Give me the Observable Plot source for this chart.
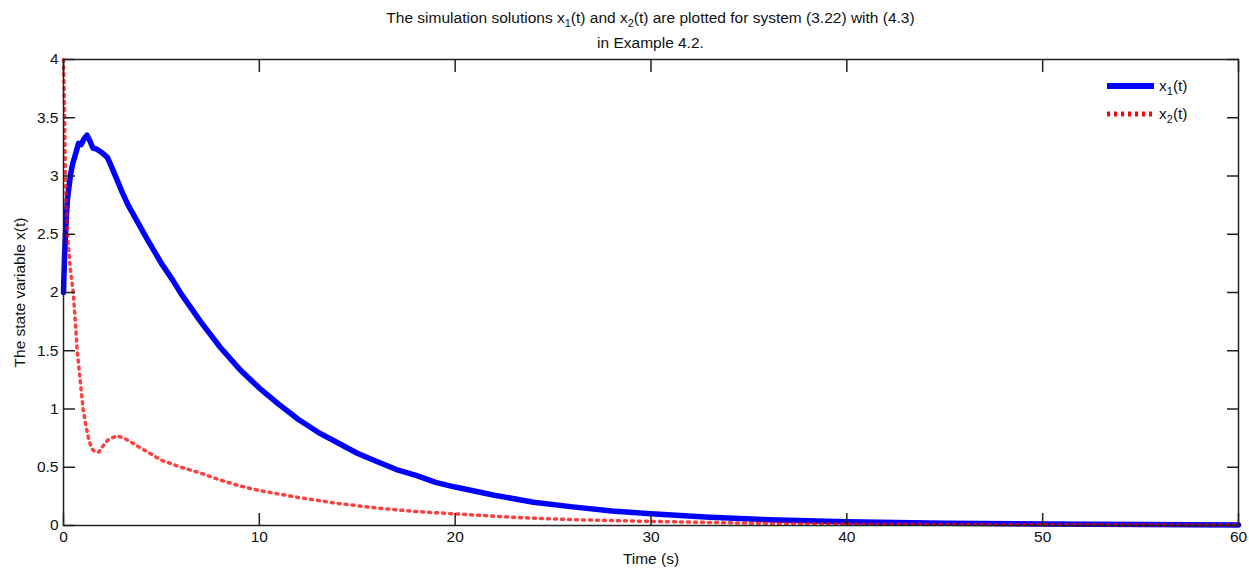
<!DOCTYPE html>
<html><head><meta charset="utf-8">
<script src="https://cdn.jsdelivr.net/npm/d3@7"></script>
<script src="https://cdn.jsdelivr.net/npm/@observablehq/plot@0.6"></script>
<style>
body{margin:0;background:#fff;font-family:"Liberation Sans",Arial,sans-serif;}
#wrap{position:relative;width:1249px;height:569px;overflow:hidden;}
#title{position:absolute;left:63px;width:1175px;top:5px;text-align:center;font-size:15.5px;line-height:25px;color:#111;}
#title sub{font-size:11px;vertical-align:-4px;line-height:0;}
#chart{position:absolute;left:0;top:52px;}
#legend{position:absolute;left:0;top:0;pointer-events:none;}
</style></head><body>
<div id="wrap">
<div id="title">The simulation solutions x<sub>1</sub>(t) and x<sub>2</sub>(t) are plotted for system (3.22) with (4.3)<br>in Example 4.2.</div>
<div id="chart"></div>
<svg id="legend" width="1249" height="569"></svg>
</div>
<script>
// ---- data ----
const x1T = [0,0.05,0.1,0.2,0.35,0.46,0.6,0.77,0.9,1.05,1.2,1.35,1.5,1.7,1.97,2.24,2.4,2.6,3.0,3.3,3.8,4.3,5,5.6,6,7,8,9,10,11,12,13,14,15,16,17,18,19,20,22,24,26,28,30,33,36,40,45,50,55,60];
const x1V = [2.0,2.3,2.5,2.8,3.0,3.1,3.18,3.28,3.27,3.32,3.35,3.3,3.24,3.23,3.2,3.16,3.1,3.02,2.86,2.75,2.6,2.45,2.25,2.1,1.99,1.75,1.53,1.34,1.18,1.04,0.91,0.80,0.71,0.62,0.55,0.48,0.43,0.37,0.33,0.26,0.2,0.16,0.125,0.1,0.07,0.05,0.033,0.02,0.012,0.008,0.005];
const x2T = [0,0.05,0.1,0.2,0.35,0.5,0.6,0.7,0.85,1.0,1.15,1.3,1.45,1.6,1.8,2.0,2.3,2.75,3.2,3.6,4,5,6,7,8,9,10,11,12,14,16,18,20,23,26,30,35,40,50,60];
const x2V = [4.0,3.6,3.0,2.5,2.2,2.0,1.75,1.5,1.25,1.0,0.85,0.73,0.66,0.63,0.63,0.68,0.74,0.77,0.74,0.70,0.66,0.56,0.50,0.45,0.39,0.34,0.30,0.27,0.24,0.19,0.15,0.12,0.1,0.07,0.05,0.035,0.02,0.012,0.006,0.004];
const xTicks = [0,10,20,30,40,50,60];
const yTicks = [0,0.5,1,1.5,2,2.5,3,3.5,4];
const seriesBase = ["x","x"];
const seriesSub = ["1","2"];
const seriesColor = ["#0000ff","#ff0000"];

const x1Rows = x1T.map((t,i)=>({t, v:x1V[i]}));
const x2Rows = x2T.map((t,i)=>({t, v:x2V[i]}));

const fmt = d => String(d);
const chart = Plot.plot({
  width:1249, height:517,
  marginLeft:63, marginRight:11, marginTop:7, marginBottom:44,
  style:{fontFamily:"Liberation Sans, Arial, sans-serif", fontSize:"15.5px", color:"#111", background:"white", overflow:"visible"},
  x:{domain:[0,60]},
  y:{domain:[0,4]},
  marks:[
    Plot.line(x1Rows,{x:"t",y:"v",stroke:seriesColor[0],strokeWidth:5.5}),
    Plot.line(x2Rows,{x:"t",y:"v",stroke:seriesColor[1],strokeWidth:3.5,strokeDasharray:"2,5",strokeOpacity:0.75}),
    Plot.frame({stroke:"#222",strokeWidth:1.5}),
    Plot.axisX(xTicks,{anchor:"bottom",tickSize:0,tickPadding:5,tickFormat:fmt,label:"Time (s)",labelAnchor:"center",labelArrow:"none",labelOffset:38,fontSize:15.5}),
    Plot.axisX(xTicks,{anchor:"bottom",tickSize:-12,tickFormat:()=>"",label:null,stroke:"#222",strokeWidth:1.5}),
    Plot.axisX(xTicks,{anchor:"top",tickSize:-12,tickFormat:()=>"",label:null,stroke:"#222",strokeWidth:1.5}),
    Plot.axisY(yTicks,{anchor:"left",tickSize:0,tickPadding:5,tickFormat:fmt,label:"The state variable x(t)",labelAnchor:"center",labelArrow:"none",labelOffset:50,fontSize:15.5}),
    Plot.axisY(yTicks,{anchor:"left",tickSize:-12,tickFormat:()=>"",label:null,stroke:"#222",strokeWidth:1.5}),
    Plot.axisY(yTicks,{anchor:"right",tickSize:-12,tickFormat:()=>"",label:null,stroke:"#222",strokeWidth:1.5})
  ]
});
document.getElementById("chart").appendChild(chart);

// legend
const lg = d3.select("#legend");
seriesBase.forEach((b,i)=>{
  const y = 86 + i*28;
  lg.append("line").attr("x1",1107).attr("x2",1154).attr("y1",y).attr("y2",y)
    .attr("stroke",seriesColor[i]).attr("stroke-width",i===0?6:5)
    .attr("stroke-dasharray",i===0?null:"3,4");
  const tx = lg.append("text").attr("x",1159).attr("y",y+5)
    .attr("font-family","Liberation Sans, Arial, sans-serif").attr("font-size",15.5).attr("fill","#111");
  tx.append("tspan").text(b);
  tx.append("tspan").attr("dy",4).attr("font-size",11).text(seriesSub[i]);
  tx.append("tspan").attr("dy",-4).attr("font-size",15.5).text("(t)");
});
</script>
</body></html>
